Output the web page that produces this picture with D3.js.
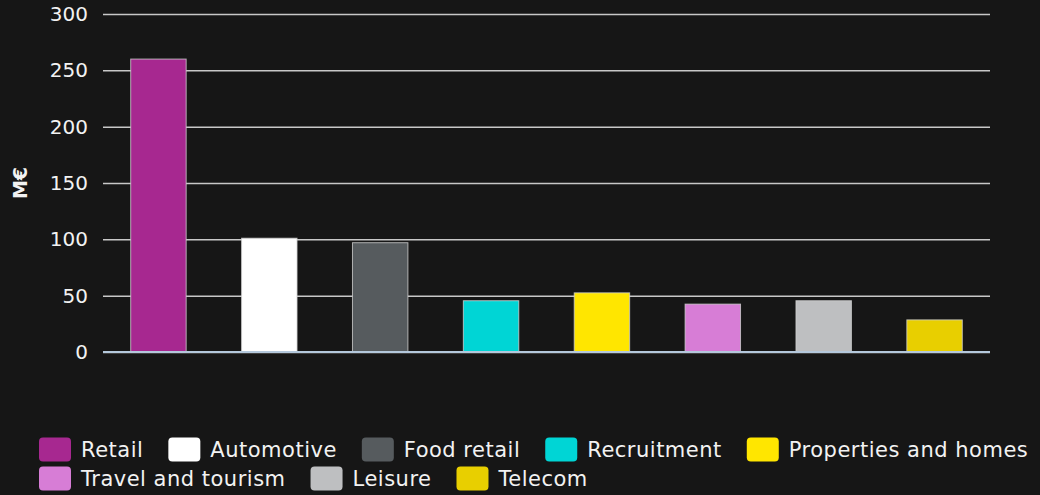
<!DOCTYPE html>
<html>
<head>
<meta charset="utf-8">
<script src="https://cdn.jsdelivr.net/npm/d3@7"></script>
<style>
  html, body { margin: 0; padding: 0; background: #161616; }
  svg { display: block; }
  text { font-family: "DejaVu Sans", sans-serif; fill: #f2f2f2; }
</style>
</head>
<body>
<svg id="chart" width="1040" height="495"></svg>
<script>
// Advertising spend by sector, in millions of euros
const categories = ["Retail", "Automotive", "Food retail", "Recruitment",
  "Properties and homes", "Travel and tourism", "Leisure", "Telecom"];
const values = [260, 101, 97, 45.5, 52.5, 42.5, 45.5, 28.5];
const colors = ["#a72890", "#ffffff", "#565b5e", "#00d5d5",
  "#ffe600", "#d77dd6", "#bebfc1", "#e8cf00"];
const yTicks = [0, 50, 100, 150, 200, 250, 300];
const yLabel = "M€";

const svg = d3.select("#chart");
const margin = { top: 14, right: 50, bottom: 143, left: 103 };
const W = 1040, H = 495;
const plotW = W - margin.left - margin.right;
const plotH = H - margin.top - margin.bottom;

const g = svg.append("g").attr("transform", `translate(${margin.left},${margin.top})`);

const x = d3.scaleBand().domain(categories).range([0, plotW]).paddingInner(0.5).paddingOuter(0.25);
const y = d3.scaleLinear().domain([0, 300]).range([plotH, 0]);

// Horizontal gridlines with tick labels
const yAxis = d3.axisLeft(y).tickValues(yTicks).tickSize(-plotW).tickPadding(15);
const ya = g.append("g").call(yAxis);
ya.select(".domain").remove();
ya.selectAll(".tick line").attr("stroke", "#c8c8c8").attr("stroke-width", 1.5);
ya.selectAll(".tick text").attr("font-size", 20).attr("fill", "#f2f2f2")
  .attr("font-family", "DejaVu Sans, sans-serif");

// Bars
g.selectAll("rect.bar").data(categories).join("rect")
  .attr("class", "bar")
  .attr("x", d => x(d))
  .attr("width", x.bandwidth())
  .attr("y", (d, i) => y(values[i]))
  .attr("height", (d, i) => y(0) - y(values[i]))
  .attr("fill", (d, i) => colors[i])
  .attr("stroke", "#d0d0d0")
  .attr("stroke-opacity", 0.8)
  .attr("stroke-width", 1);

// Baseline
g.append("line")
  .attr("x1", 0).attr("x2", plotW)
  .attr("y1", y(0)).attr("y2", y(0))
  .attr("stroke", "#b4c8dc").attr("stroke-width", 2);

// Y axis title
svg.append("text")
  .attr("transform", `translate(27,${margin.top + plotH / 2}) rotate(-90)`)
  .attr("text-anchor", "middle")
  .attr("font-size", 19)
  .attr("font-weight", "bold")
  .text(yLabel);

// Legend, flowing left to right and wrapping
const legend = svg.append("g");
const legendLeft = 39, legendRight = 1040, rowH = 29, firstRow = 437.5;
const sw = 32, sh = 24, gapText = 10, gapItem = 25;
let cx = legendLeft, row = 0;
categories.forEach((c, i) => {
  const item = legend.append("g");
  const t = item.append("text")
    .attr("font-size", 21)
    .attr("letter-spacing", 0.5)
    .attr("x", sw + gapText)
    .attr("y", sh / 2)
    .attr("dy", "0.36em")
    .text(c);
  const tw = t.node().getComputedTextLength();
  const w = sw + gapText + tw;
  if (cx + w > legendRight && cx > legendLeft) { row++; cx = legendLeft; }
  item.attr("transform", `translate(${cx},${firstRow + row * rowH})`);
  item.insert("rect", "text")
    .attr("width", sw).attr("height", sh).attr("rx", 4)
    .attr("fill", colors[i]);
  cx += w + gapItem;
});
</script>
</body>
</html>
